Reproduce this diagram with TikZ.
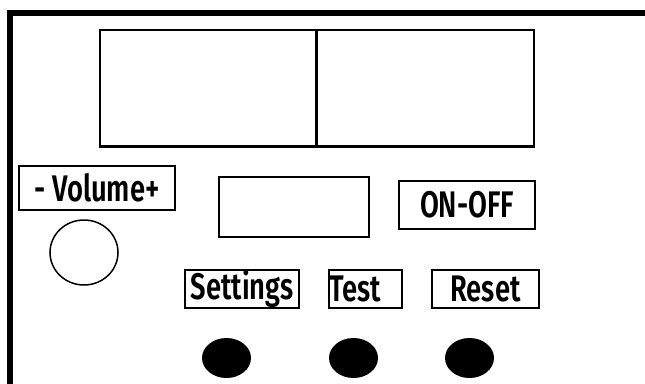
\documentclass[tikz,border=0pt]{standalone}
\usepackage{fontspec}
\setmainfont{Fira Sans}[UprightFont=* SemiBold, FakeStretch=0.74]
\usetikzlibrary{shapes.geometric}
\tikzset{
  panel/.style={line width=6pt},
  screen/.style={draw, line width=2.5pt, inner sep=0pt},
  labelbox/.style={draw, line width=1.5pt, inner sep=0pt,
    font=\fontsize{37}{38}\selectfont},
  knob/.style={draw, ellipse, line width=1.5pt, inner sep=0pt},
  button/.style={fill=black, ellipse, inner sep=0pt,
    minimum width=49pt, minimum height=40pt}
}
\begin{document}
\begin{tikzpicture}[x=1pt,y=-1pt]
  \useasboundingbox (0,0) rectangle (645,383);
  % front panel edge
  \coordinate (pb) at (10,390);
  \coordinate (pc) at (10,13);
  \coordinate (pr) at (650,13);
  \draw[panel] (pb) -- (pc) -- (pr);
  % main display
  \node[screen, minimum width=216.5pt, minimum height=116.5pt] (dispL) at (208.25,88.25) {};
  \node[screen, minimum width=217.5pt, minimum height=116.5pt] (dispR) at (425.25,88.25) {};
  % volume
  \node[labelbox, minimum width=156pt, minimum height=44pt] (vol) at (97,188) {- Volume+};
  \node[knob, minimum width=68pt, minimum height=65pt] (volknob) at (84,252.5) {};
  % small display and power
  \node[labelbox, line width=1.2pt, minimum width=150pt, minimum height=60pt] (disp2) at (294,207) {};
  \node[labelbox, minimum width=136pt, minimum height=48pt] (onoff) at (467,205) {ON-OFF};
  % button labels
  \node[labelbox, minimum width=114pt, minimum height=38pt] (set) at (242,289) {Settings};
  \node[labelbox, text width=72pt, inner xsep=0.5pt, align=left, minimum height=38pt] (test) at (365.5,289) {Test};
  \node[labelbox, minimum width=107pt, minimum height=38pt] (reset) at (485.5,289) {Reset};
  % buttons
  \node[button] (setbtn) at (226.5,358) {};
  \node[button] (testbtn) at (353.5,358) {};
  \node[button] (resetbtn) at (469.5,358) {};
\end{tikzpicture}
\end{document}
